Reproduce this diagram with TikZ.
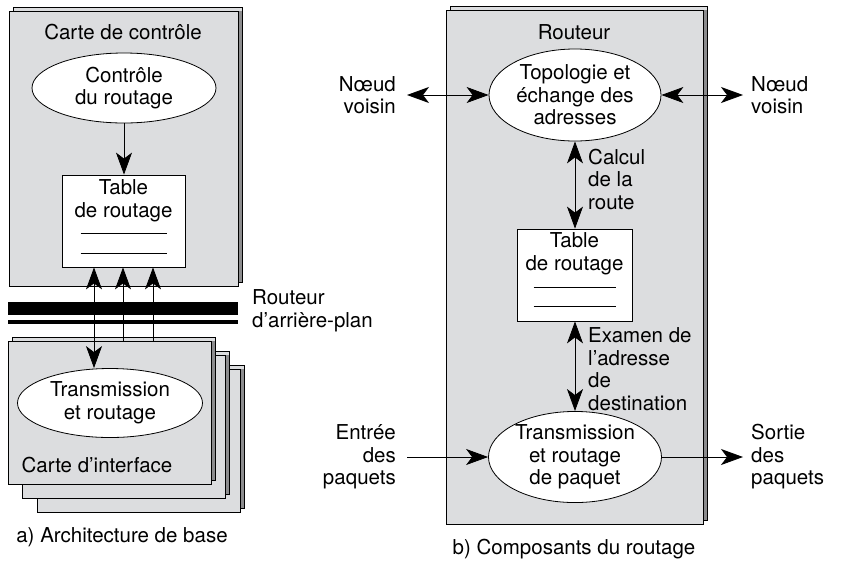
\documentclass[tikz,border=0pt]{standalone}
\usepackage{fontspec}
\setsansfont{TeX Gyre Heros}
\usetikzlibrary{arrows.meta, positioning, calc, fit, shapes.geometric}
\definecolor{cartegris}{RGB}{220,221,223}
\definecolor{cartebord}{RGB}{140,140,142}
\tikzset{
  font=\sffamily\fontsize{20.5}{22.5}\selectfont,
  carte/.style={draw, fill=cartegris, line width=0.8pt, inner sep=0pt},
  bulle/.style={ellipse, draw, fill=white, line width=0.8pt, align=center, inner sep=0pt, minimum width=#1},
  tableau/.style={draw, fill=white, line width=0.8pt, inner sep=0pt},
  txt/.style={align=center, inner sep=0pt},
  fl/.style={-{Stealth[length=22pt,width=16pt,inset=6pt]}, line width=0.8pt},
  fldouble/.style={{Stealth[length=22pt,width=16pt,inset=6pt]}-{Stealth[length=22pt,width=16pt,inset=6pt]}, line width=0.8pt},
  bus/.style={fill=black, draw=none, inner sep=0pt}
}
\newcommand{\feuille}[5]{%
  \filldraw[fill=cartegris, line width=0.8pt] (#2+4,#3-4) rectangle (#4+4,#5-4);
  \fill[cartebord] (#4,#3) rectangle (#4+3.6,#5-4.4);
  \node[carte, fit={(#2,#3) (#4,#5)}] (#1) {};
}

\begin{document}
\begin{tikzpicture}[x=1pt,y=-1pt]
  \useasboundingbox (0,0) rectangle (859,563);
  \feuille{ctrl}{9}{11}{238}{286}
  \node[txt] (titreA) at (123,32) {Carte de contrôle};
  \node[bulle=184pt, minimum height=70pt] (ctrlrout) at (124,88) {Contrôle\\du routage};
  \node[tableau, minimum width=123pt, minimum height=92pt] (tabA) at (123.5,221) {};
  \node[txt] (tabAtxt) at (123.5,201) {Table\\de routage};
  \draw ($(tabA.center)+(-43,12)$) -- ($(tabA.center)+(43,12)$);
  \draw ($(tabA.center)+(-43,32)$) -- ($(tabA.center)+(43,32)$);
  \draw[fl] (ctrlrout.south) -- (ctrlrout.south |- tabA.north);

  \feuille{ifaceC}{37}{369}{240}{512}
  \feuille{ifaceB}{22.5}{355}{225.5}{498}
  \feuille{iface}{8}{341}{211}{484}
  \node[bulle=185pt, minimum height=69pt] (trA) at (110,403) {Transmission\\et routage};
  \node[txt] (ifacetxt) at (97,465) {Carte d’interface};

  \draw[fldouble] ([xshift=-29.5pt]tabA.south) -- ([xshift=-29.5pt]tabA.south |- trA.north);
  \draw[fl] ([xshift=-0.5pt]tabA.south |- iface.north) -- ([xshift=-0.5pt]tabA.south);
  \draw[fl] ([xshift=29.5pt]tabA.south |- iface.north) -- ([xshift=29.5pt]tabA.south);
  \node[bus, fit={(8,302) (238,315)}] (busA) {};
  \node[bus, fit={(8,320) (238,324)}] (busB) {};
  \node[txt, align=left, anchor=west] (busnom) at (252,311) {Routeur\\d’arrière-plan};
  \node[txt] (legA) at (122,537) {a) Architecture de base};

  \feuille{routeur}{446}{10}{703}{524}
  \node[txt] (titreB) at (574,32) {Routeur};
  \node[bulle=172pt, minimum height=92pt] (topo) at (575,95) {Topologie et\\échange des\\adresses};
  \node[tableau, minimum width=115pt, minimum height=92pt] (tabB) at (574.5,275) {};
  \node[txt] (tabBtxt) at (574.5,254) {Table\\de routage};
  \draw ($(tabB.center)+(-41,12)$) -- ($(tabB.center)+(41,12)$);
  \draw ($(tabB.center)+(-41,31)$) -- ($(tabB.center)+(41,31)$);
  \node[bulle=173pt, minimum height=91pt] (trB) at (575,457) {Transmission\\et routage\\de paquet};

  \node[txt, align=right, anchor=east] (voisinG) at (396,95) {Nœud\\voisin};
  \node[txt, align=left, anchor=west] (voisinD) at (751,95) {Nœud\\voisin};
  \node[txt, align=right, anchor=east] (entree) at (396,457) {Entrée\\des\\paquets};
  \node[txt, align=left, anchor=west] (sortie) at (751,457) {Sortie\\des\\paquets};
  \node[txt, align=left, anchor=west] (calcul) at (588,179) {Calcul\\de la\\route};
  \node[txt, align=left, anchor=west] (examen) at (588,369) {Examen de\\l’adresse\\de\\destination};
  \node[txt] (legB) at (574,549) {b) Composants du routage};

  \draw[fldouble] ([xshift=11pt]voisinG.east) -- (topo.west);
  \draw[fldouble] (topo.east) -- ([xshift=-8pt]voisinD.west);
  \draw[fldouble] (topo.south) -- (topo.south |- tabB.north);
  \draw[fldouble] (tabB.south -| topo.south) -- (trB.north);
  \draw[fl] ([xshift=11pt]entree.east) -- (trB.west);
  \draw[fl] (trB.east) -- ([xshift=-8pt]sortie.west);
\end{tikzpicture}
\end{document}
